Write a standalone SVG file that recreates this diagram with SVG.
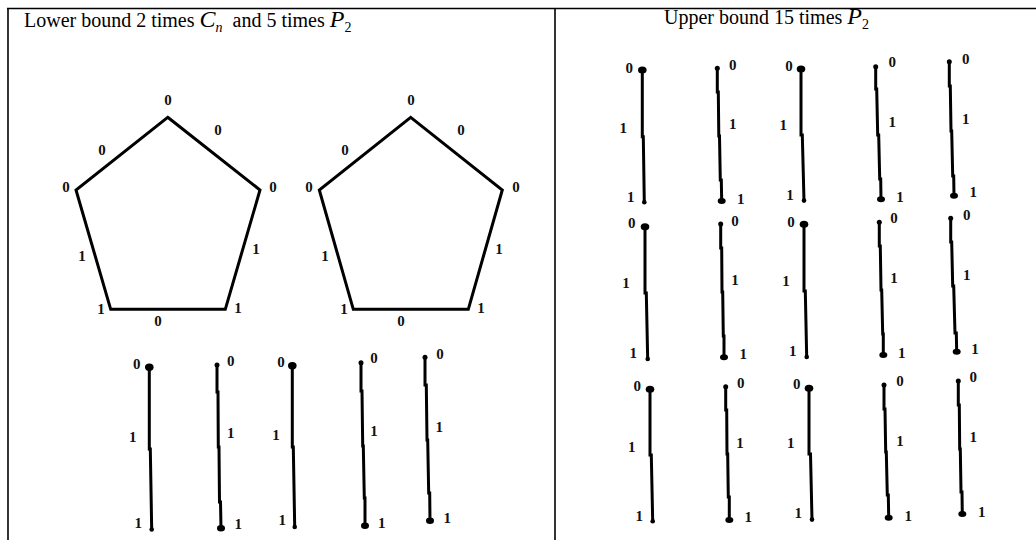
<svg xmlns="http://www.w3.org/2000/svg" width="1036" height="540" viewBox="0 0 1036 540">
<style>
.frame{stroke:#000;stroke-width:1.6;fill:none}
.poly{stroke:#000;stroke-width:3;fill:none;stroke-linejoin:miter}
.edge{stroke:#000;stroke-width:3;fill:none}
.dot{fill:#000}
.lbl{font-family:"Liberation Serif",serif;font-weight:bold;font-size:15px;fill:#111;text-anchor:middle}
.title{font-family:"Liberation Serif",serif;font-size:20px;fill:#000}
.it{font-style:italic;font-size:24px}
.sub{font-size:14px}
</style>
<rect width="1036" height="540" fill="#fff"/>
<g id="table">
<line class="frame" x1="7" y1="8.5" x2="1036" y2="8.5"/>
<line class="frame" x1="8" y1="8" x2="8" y2="540"/>
<line class="frame" x1="555" y1="8" x2="555" y2="540"/>
</g>
<g id="titles">
<text class="title" x="24" y="27" xml:space="preserve">Lower bound 2 times <tspan class="it">C</tspan><tspan class="sub it" style="font-size:14px" dy="5">n</tspan><tspan dy="-5">  and 5 times </tspan><tspan class="it">P</tspan><tspan class="sub" dy="5">2</tspan></text>
<text class="title" x="664" y="24">Upper bound 15 times <tspan class="it">P</tspan><tspan class="sub" dy="5">2</tspan></text>
</g>
<g id="cycle1">
<polygon class="poly" points="167.7,117.3 260,190 225.3,309.3 110.7,309.3 76,190"/>
<text class="lbl" x="168" y="105">0</text><text class="lbl" x="218" y="135">0</text><text class="lbl" x="102" y="155">0</text>
<text class="lbl" x="66" y="192">0</text><text class="lbl" x="273" y="192">0</text><text class="lbl" x="82" y="261">1</text>
<text class="lbl" x="256" y="254">1</text><text class="lbl" x="101" y="314">1</text><text class="lbl" x="238" y="313">1</text>
<text class="lbl" x="158" y="326">0</text>
</g>
<g id="cycle2">
<polygon class="poly" points="410.7,117.3 502.3,190 468.3,309.3 353.3,309.3 319.3,190"/>
<text class="lbl" x="411" y="105">0</text><text class="lbl" x="461" y="135">0</text><text class="lbl" x="345" y="155">0</text>
<text class="lbl" x="309" y="192">0</text><text class="lbl" x="516" y="192">0</text><text class="lbl" x="325" y="261">1</text>
<text class="lbl" x="499" y="254">1</text><text class="lbl" x="344" y="314">1</text><text class="lbl" x="481" y="313">1</text>
<text class="lbl" x="401" y="326">0</text>
</g>
<g id="lower-paths">
<g id="lp1"><polyline class="edge" points="149.3,367 149.3,449 150.3,449 151.7,530"/><ellipse class="dot" cx="149.3" cy="367.3" rx="4.3" ry="3.7"/><circle class="dot" cx="151.7" cy="529.5" r="2.3"/>
<text class="lbl" x="136.7" y="369">0</text><text class="lbl" x="132.7" y="442">1</text><text class="lbl" x="138.3" y="527.7">1</text></g>
<g id="lp2"><polyline class="edge" points="217,365 217,392 218,392 218.3,447 219,447 219.5,502 220.5,502 221,528"/><circle class="dot" cx="217" cy="365" r="2.5"/><ellipse class="dot" cx="221" cy="528.3" rx="4" ry="3.2"/>
<text class="lbl" x="230.7" y="365.7">0</text><text class="lbl" x="230.7" y="438">1</text><text class="lbl" x="238.3" y="529">1</text></g>
<g id="lp3"><polyline class="edge" points="292.3,366 292.3,447 293.3,447 294.7,527"/><ellipse class="dot" cx="292.3" cy="365.7" rx="4.3" ry="3.7"/><circle class="dot" cx="294.7" cy="527" r="2.3"/>
<text class="lbl" x="281" y="367">0</text><text class="lbl" x="276" y="440">1</text><text class="lbl" x="282.3" y="525">1</text></g>
<g id="lp4"><polyline class="edge" points="361,362.7 361,391 362,391 362.7,446 363.3,446 364.3,498 365,498 365,525.7"/><circle class="dot" cx="361" cy="362.7" r="2.5"/><ellipse class="dot" cx="365" cy="525.7" rx="4" ry="3.2"/>
<text class="lbl" x="374" y="363.3">0</text><text class="lbl" x="374" y="436">1</text><text class="lbl" x="381.7" y="527.7">1</text></g>
<g id="lp5"><polyline class="edge" points="425,357.3 425,385 426.3,385 427,440 427.7,440 428.7,493 429.7,493 430,520.7"/><circle class="dot" cx="425" cy="357.3" r="2.5"/><ellipse class="dot" cx="430" cy="520.7" rx="4" ry="3.2"/>
<text class="lbl" x="440" y="359">0</text><text class="lbl" x="439.3" y="432.3">1</text><text class="lbl" x="447.3" y="523.3">1</text></g>
</g>
<g id="upper-paths">
<g id="up1"><polyline class="edge" points="642.3,70 642.3,136.7 643.3,136.7 644.3,202.7"/><ellipse class="dot" cx="642.3" cy="70" rx="4.3" ry="3.5"/><circle class="dot" cx="644.3" cy="202.3" r="2.3"/>
<text class="lbl" x="629.3" y="72.7">0</text><text class="lbl" x="623.3" y="132.7">1</text><text class="lbl" x="630.7" y="201.7">1</text></g>
<g id="up2"><polyline class="edge" points="717.3,68.3 717.3,92 718.3,92 718.8,136 719.5,136 720.3,180 721.3,180 721.7,201"/><circle class="dot" cx="717.3" cy="68.3" r="2.5"/><ellipse class="dot" cx="721.7" cy="201" rx="4" ry="3"/>
<text class="lbl" x="732.7" y="70">0</text><text class="lbl" x="732.7" y="129.3">1</text><text class="lbl" x="740.7" y="204">1</text></g>
<g id="up3"><polyline class="edge" points="801,69 801,135 802.3,135 804,201"/><ellipse class="dot" cx="801" cy="69" rx="4.3" ry="3.5"/><circle class="dot" cx="804" cy="200.6" r="2.3"/>
<text class="lbl" x="789" y="70.7">0</text><text class="lbl" x="783.3" y="130">1</text><text class="lbl" x="790" y="200">1</text></g>
<g id="up4"><polyline class="edge" points="875.7,66.7 875.7,89 876.7,89 877.7,135 878.7,135 879.7,179 880.7,179 881,199.3"/><circle class="dot" cx="875.7" cy="66.7" r="2.5"/><ellipse class="dot" cx="881" cy="199.3" rx="4" ry="3"/>
<text class="lbl" x="892.3" y="67.3">0</text><text class="lbl" x="892.3" y="127.3">1</text><text class="lbl" x="900" y="201.7">1</text></g>
<g id="up5"><polyline class="edge" points="949.3,61.7 949.3,86 950.3,86 951,131 951.7,131 952.7,176 953.7,176 954,195.7"/><circle class="dot" cx="949.3" cy="61.7" r="2.5"/><ellipse class="dot" cx="954" cy="195.7" rx="4" ry="3"/>
<text class="lbl" x="965.7" y="64">0</text><text class="lbl" x="965.7" y="124">1</text><text class="lbl" x="973.3" y="197.3">1</text></g>
<g id="up6"><polyline class="edge" points="645,226.7 645,293 646.3,293 647.7,359.3"/><ellipse class="dot" cx="645" cy="226.7" rx="4.3" ry="3.5"/><circle class="dot" cx="647.7" cy="359" r="2.3"/>
<text class="lbl" x="631.7" y="228.3">0</text><text class="lbl" x="626" y="288.3">1</text><text class="lbl" x="633.3" y="358.3">1</text></g>
<g id="up7"><polyline class="edge" points="720.7,224 720.7,248 721.7,248 722,292 722.7,292 723.3,336 724,336 724,357.3"/><circle class="dot" cx="720.7" cy="224" r="2.5"/><ellipse class="dot" cx="724" cy="357.3" rx="4" ry="3"/>
<text class="lbl" x="735" y="225.7">0</text><text class="lbl" x="735" y="285">1</text><text class="lbl" x="743.3" y="359">1</text></g>
<g id="up8"><polyline class="edge" points="804,224.3 804,291 805.3,291 806.7,357.3"/><ellipse class="dot" cx="804" cy="224.3" rx="4.3" ry="3.5"/><circle class="dot" cx="806.7" cy="357" r="2.3"/>
<text class="lbl" x="791" y="226.7">0</text><text class="lbl" x="786" y="285.7">1</text><text class="lbl" x="792.7" y="355.7">1</text></g>
<g id="up9"><polyline class="edge" points="879.3,222.3 879.3,246 880.3,246 881,290 881.7,290 882.7,334 883.3,334 883.3,355"/><circle class="dot" cx="879.3" cy="222.3" r="2.5"/><ellipse class="dot" cx="883.3" cy="355" rx="4" ry="3"/>
<text class="lbl" x="894" y="223.3">0</text><text class="lbl" x="894" y="282.7">1</text><text class="lbl" x="901.7" y="357.7">1</text></g>
<g id="up10"><polyline class="edge" points="950.7,218.3 950.7,242 951.7,242 952.7,286 953.7,286 955,333 956.3,333 956.7,351.7"/><circle class="dot" cx="950.7" cy="218.3" r="2.5"/><ellipse class="dot" cx="956.7" cy="351.7" rx="4" ry="3"/>
<text class="lbl" x="966.7" y="220">0</text><text class="lbl" x="966.7" y="280">1</text><text class="lbl" x="975" y="354.3">1</text></g>
<g id="up11"><polyline class="edge" points="650,389.3 650,455 651.3,455 652.7,521.7"/><ellipse class="dot" cx="650" cy="389.3" rx="4.3" ry="3.5"/><circle class="dot" cx="652.7" cy="521.3" r="2.3"/>
<text class="lbl" x="637.3" y="391">0</text><text class="lbl" x="631.7" y="451.7">1</text><text class="lbl" x="639.3" y="521">1</text></g>
<g id="up12"><polyline class="edge" points="725.7,386.7 725.7,410 726.7,410 727,454 727.7,454 728.3,497 729.3,497 729.3,520"/><circle class="dot" cx="725.7" cy="386.7" r="2.5"/><ellipse class="dot" cx="729.3" cy="520" rx="4" ry="3"/>
<text class="lbl" x="740.7" y="387.7">0</text><text class="lbl" x="740" y="447.7">1</text><text class="lbl" x="748.3" y="522.3">1</text></g>
<g id="up13"><polyline class="edge" points="809,388.3 809,454 810.5,454 812,520"/><ellipse class="dot" cx="809" cy="388.3" rx="4.3" ry="3.5"/><circle class="dot" cx="812" cy="519.6" r="2.3"/>
<text class="lbl" x="796.7" y="389">0</text><text class="lbl" x="790.7" y="448.3">1</text><text class="lbl" x="798.3" y="518.3">1</text></g>
<g id="up14"><polyline class="edge" points="884,385 884,409 885,409 885.7,452 886.3,452 887.3,495 888.3,495 888.7,517.7"/><circle class="dot" cx="884" cy="385" r="2.5"/><ellipse class="dot" cx="888.7" cy="517.7" rx="4" ry="3"/>
<text class="lbl" x="900" y="385.7">0</text><text class="lbl" x="900" y="446">1</text><text class="lbl" x="908.3" y="520.7">1</text></g>
<g id="up15"><polyline class="edge" points="958.3,381 958.3,405 959.3,405 959.7,449 960.3,449 961,492 962,492 962.3,514"/><circle class="dot" cx="958.3" cy="381" r="2.5"/><ellipse class="dot" cx="962.3" cy="514" rx="4" ry="3"/>
<text class="lbl" x="973.3" y="382.3">0</text><text class="lbl" x="973.3" y="442.3">1</text><text class="lbl" x="981.7" y="516.7">1</text></g>
</g>
</svg>
